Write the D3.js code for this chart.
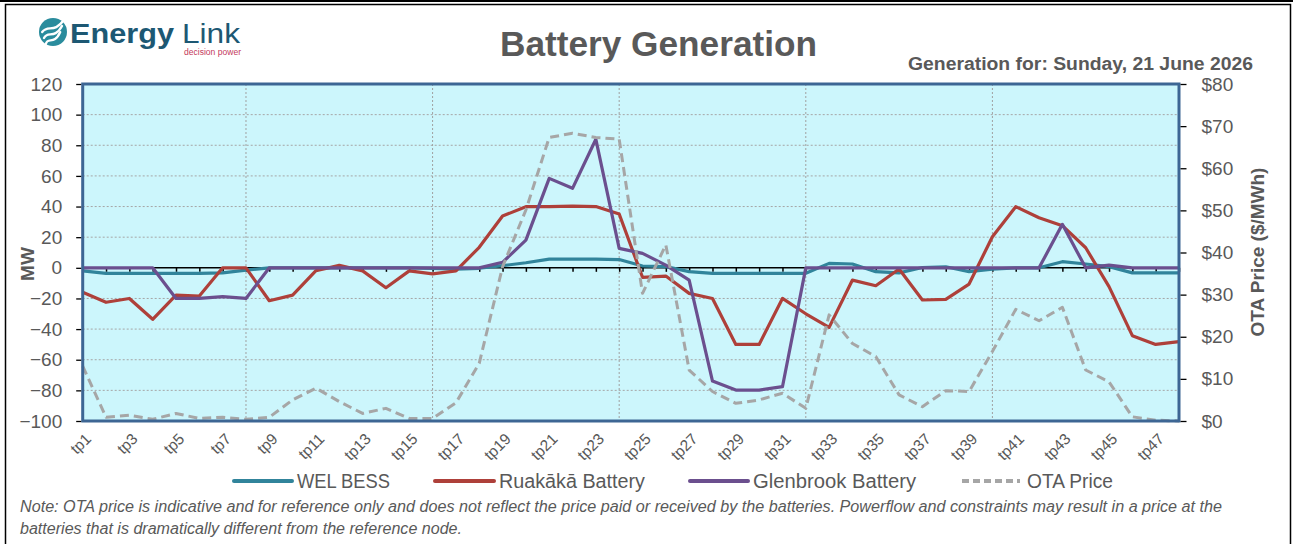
<!DOCTYPE html>
<html>
<head>
<meta charset="utf-8">
<script src="https://cdn.jsdelivr.net/npm/d3@7"></script>
<style>
  html, body { margin: 0; padding: 0; background: #ffffff; }
  svg { display: block; }
</style>
</head>
<body>
<svg id="chart" width="1293" height="544"></svg>
<script>
// ---------------- DATA ----------------
const categories = d3.range(1, 49).map(i => "tp" + i);
const xTickLabels = categories.filter((d, i) => i % 2 === 0);
const leftTicks = [-100, -80, -60, -40, -20, 0, 20, 40, 60, 80, 100, 120];
const rightTicks = [0, 10, 20, 30, 40, 50, 60, 70, 80];
const vGridCats = ["tp8", "tp16", "tp24", "tp32", "tp40"];

const welBess = [-2, -3.6, -3.6, -3.6, -3.6, -3.6, -3.3, -1.5, 0, 0, 0, 0, 0, 0, 0, -0.3,
  -0.8, -0.3, 1.4, 3.3, 5.7, 5.7, 5.7, 5.4, 1.2, 0.8, -2.5, -3.6, -3.6, -3.6, -3.6, -3.6,
  2.9, 2.5, -2.5, -3.3, 0.2, 0.7, -2.5, -0.9, 0, 0, 4, 2.5, 0.8, -3.3, -3.3, -3.3];

const ruakaka = [-16, -22.5, -20, -33.6, -17.8, -18.4, 0, 0, -21.5, -17.8, -1.9, 1.6, -2, -13, -2, -4,
  -2, 13.4, 33.8, 39.9, 40, 40.3, 40, 35.1, -6.2, -5.4, -16.7, -20, -50, -50, -20, -30,
  -38.9, -8, -11.7, -0.8, -21, -20.6, -10.6, 20.3, 39.9, 32.7, 27.5, 13.1, -12.3, -44.3, -50, -48.2];

const glenbrook = [0, 0, 0, 0, -20, -20, -18.8, -20, 0, 0, 0, 0, 0, 0, 0, 0,
  0, 0, 3.6, 18.1, 58.4, 51.9, 83.9, 12.7, 9.4, 1.8, -8, -73.9, -79.8, -79.8, -77.6, 0,
  0, 0, 0, 0, 0, 0, 0, 0, 0, 0, 28.4, 0, 1.8, 0, 0, 0];

const otaPrice = [13, 0.9, 1.4, 0.4, 1.8, 0.6, 0.9, 0.4, 0.9, 5, 7.8, 4.6, 1.8, 3, 0.6, 0.6,
  4.3, 13.7, 36.6, 50.1, 67.3, 68.3, 67.3, 66.9, 30.3, 41.8, 12.1, 7, 4.2, 5, 6.6, 3,
  25.2, 18.4, 15.3, 6.2, 3.4, 7.2, 7, 16.5, 26.5, 23.8, 27, 12.1, 9.3, 1, 0.2, 0];

const seriesNames = ["WEL BESS", "Ruakākā Battery", "Glenbrook Battery", "OTA Price"];
const seriesColors = ["#31849B", "#AE403A", "#6B4F8E", "#A6A6A6"];

const titleText = "Battery Generation";
const subtitleText = "Generation for: Sunday, 21 June 2026";
const noteLines = [
  "Note: OTA price is indicative and for reference only and does not reflect the price paid or received by the batteries. Powerflow and  constraints may result in a price at the",
  "batteries that is dramatically different from the reference node."
];

// ---------------- LAYOUT ----------------
const svg = d3.select("#chart");
const L = 82.7, R = 1179, T = 84, B = 421;
const textGray = "#595959";

const x = d3.scalePoint().domain(categories).range([L, R]).padding(0);
const yL = d3.scaleLinear().domain([-100, 120]).range([B, T]);
const yR = d3.scaleLinear().domain([0, 80]).range([B, T]);

// outer frame
svg.append("line").attr("x1", 0).attr("x2", 1293).attr("y1", 1).attr("y2", 1)
  .attr("stroke", "#000").attr("stroke-width", 2);
svg.append("rect").attr("x", 5.5).attr("y", 4.5).attr("width", 1285).attr("height", 560)
  .attr("fill", "none").attr("stroke", "#000").attr("stroke-width", 1.5);

// logo
const logo = svg.append("g");
logo.append("circle").attr("cx", 53).attr("cy", 32).attr("r", 14).attr("fill", "#2A8C9D");
[-6, 0, 6].forEach(o => {
  logo.append("path")
    .attr("d", `M${44 + o * 0.3},${38 + o} C${48},${30 + o} ${54},${40 + o} ${62 - o * 0.3},${26 + o}`)
    .attr("fill", "none").attr("stroke", "#fff").attr("stroke-width", 2.4).attr("stroke-linecap", "round");
});
logo.append("text").attr("x", 70).attr("y", 43).text("Energy")
  .attr("font-family", "Liberation Sans, Arial, sans-serif").attr("font-weight", "bold")
  .attr("font-size", 27).attr("fill", "#1D5873").attr("textLength", 104).attr("lengthAdjust", "spacingAndGlyphs");
logo.append("text").attr("x", 182).attr("y", 43).text("Link")
  .attr("font-family", "Liberation Sans, Arial, sans-serif")
  .attr("font-size", 27).attr("fill", "#1D5873").attr("textLength", 58).attr("lengthAdjust", "spacingAndGlyphs");
logo.append("text").attr("x", 184).attr("y", 55).text("decision power")
  .attr("font-family", "Liberation Sans, Arial, sans-serif")
  .attr("font-size", 8.5).attr("fill", "#C43A5C").attr("textLength", 57).attr("lengthAdjust", "spacingAndGlyphs");

// title & subtitle
svg.append("text").attr("x", 658.5).attr("y", 56).attr("text-anchor", "middle").text(titleText)
  .attr("font-family", "Liberation Sans, Arial, sans-serif").attr("font-weight", "bold")
  .attr("font-size", 35).attr("fill", textGray).attr("textLength", 317).attr("lengthAdjust", "spacingAndGlyphs");
svg.append("text").attr("x", 1253).attr("y", 70).attr("text-anchor", "end").text(subtitleText)
  .attr("font-family", "Liberation Sans, Arial, sans-serif").attr("font-weight", "bold")
  .attr("font-size", 18).attr("fill", textGray).attr("textLength", 345).attr("lengthAdjust", "spacingAndGlyphs");

// plot background
svg.append("rect").attr("x", L).attr("y", T).attr("width", R - L).attr("height", B - T)
  .attr("fill", "#CCF6FC");

// horizontal dotted gridlines
svg.append("g").selectAll("line").data(leftTicks.filter(v => v !== 0 && v !== 120 && v !== -100))
  .join("line")
  .attr("x1", L).attr("x2", R).attr("y1", d => yL(d)).attr("y2", d => yL(d))
  .attr("stroke", "#A6A6A6").attr("stroke-width", 1).attr("stroke-dasharray", "2,2");

// vertical dotted gridlines
svg.append("g").selectAll("line").data(vGridCats).join("line")
  .attr("x1", d => x(d)).attr("x2", d => x(d)).attr("y1", T).attr("y2", B)
  .attr("stroke", "#A0A0A0").attr("stroke-width", 1).attr("stroke-dasharray", "2,2");

// zero category axis
const zeroAxis = svg.append("g").attr("transform", `translate(0,${yL(0)})`)
  .call(d3.axisBottom(x).tickSize(4).tickFormat(""));
zeroAxis.select(".domain").attr("stroke", "#000").attr("stroke-width", 1.6).attr("d", `M${L},0H${R}`);
zeroAxis.selectAll(".tick line").attr("stroke", "#000").attr("stroke-width", 1.5);

// series
const lineL = d3.line().x((d, i) => x(categories[i])).y(d => yL(d));
const lineR = d3.line().x((d, i) => x(categories[i])).y(d => yR(d));
const plotG = svg.append("g");
[welBess, ruakaka, glenbrook].forEach((s, k) => {
  plotG.append("path").datum(s).attr("d", lineL).attr("fill", "none")
    .attr("stroke", seriesColors[k]).attr("stroke-width", 3.2).attr("stroke-linejoin", "round");
});
plotG.append("path").datum(otaPrice).attr("d", lineR).attr("fill", "none")
  .attr("stroke", seriesColors[3]).attr("stroke-width", 3).attr("stroke-dasharray", "9,5")
  .attr("stroke-linejoin", "round");

// frame
svg.append("rect").attr("x", L).attr("y", T).attr("width", R - L).attr("height", B - T)
  .attr("fill", "none").attr("stroke", "#3D6694").attr("stroke-width", 3);

// left axis
const axL = svg.append("g").attr("transform", `translate(${L - 1.5},0)`)
  .call(d3.axisLeft(yL).tickValues(leftTicks).tickSize(5).tickPadding(14));
axL.select(".domain").remove();
axL.selectAll(".tick line").attr("stroke", "#000").attr("stroke-width", 1.3);
axL.selectAll(".tick text").attr("font-family", "Liberation Sans, Arial, sans-serif")
  .attr("font-size", 19).attr("fill", textGray);

// right axis
const axR = svg.append("g").attr("transform", `translate(${R + 1.5},0)`)
  .call(d3.axisRight(yR).tickValues(rightTicks).tickSize(6).tickPadding(15).tickFormat(d => "$" + d));
axR.select(".domain").remove();
axR.selectAll(".tick line").attr("stroke", "#000").attr("stroke-width", 1.3);
axR.selectAll(".tick text").attr("font-family", "Liberation Sans, Arial, sans-serif")
  .attr("font-size", 19).attr("fill", textGray);

// x labels
const axX = svg.append("g").attr("transform", `translate(0,${B})`)
  .call(d3.axisBottom(x).tickValues(xTickLabels).tickSize(0));
axX.select(".domain").remove();
axX.selectAll(".tick text")
  .attr("font-family", "Liberation Sans, Arial, sans-serif").attr("font-size", 15.5).attr("fill", textGray)
  .attr("text-anchor", "end").attr("x", 0).attr("y", 0).attr("dy", "0.35em")
  .attr("transform", "translate(5,15) rotate(-45)");

// axis titles
svg.append("text").attr("transform", "translate(34,264) rotate(-90)").attr("text-anchor", "middle")
  .text("MW").attr("font-family", "Liberation Sans, Arial, sans-serif").attr("font-weight", "bold")
  .attr("font-size", 19).attr("fill", textGray);
svg.append("text").attr("transform", "translate(1264,252) rotate(-90)").attr("text-anchor", "middle")
  .text("OTA Price ($/MWh)").attr("font-family", "Liberation Sans, Arial, sans-serif").attr("font-weight", "bold")
  .attr("font-size", 19).attr("fill", textGray);

// legend
const legendItems = [
  { x1: 234, x2: 292, tx: 297, w: 93, dash: null },
  { x1: 435, x2: 494, tx: 499, w: 146, dash: null },
  { x1: 690, x2: 748, tx: 753, w: 163, dash: null },
  { x1: 962, x2: 1020, tx: 1027, w: 86, dash: "7,4" }
];
const legend = svg.append("g");
legendItems.forEach((it, k) => {
  legend.append("line").attr("x1", it.x1).attr("x2", it.x2).attr("y1", 481).attr("y2", 481)
    .attr("stroke", seriesColors[k]).attr("stroke-width", 4)
    .attr("stroke-linecap", it.dash ? "butt" : "round")
    .attr("stroke-dasharray", it.dash);
  legend.append("text").attr("x", it.tx).attr("y", 488).text(seriesNames[k])
    .attr("font-family", "Liberation Sans, Arial, sans-serif").attr("font-size", 19.5)
    .attr("fill", textGray).attr("textLength", it.w).attr("lengthAdjust", "spacingAndGlyphs");
});

// note
svg.append("text").attr("x", 20).attr("y", 512).text(noteLines[0])
  .attr("font-family", "Liberation Sans, Arial, sans-serif").attr("font-style", "italic")
  .attr("font-size", 16).attr("fill", textGray).attr("textLength", 1202).attr("lengthAdjust", "spacingAndGlyphs");
svg.append("text").attr("x", 20).attr("y", 534).text(noteLines[1])
  .attr("font-family", "Liberation Sans, Arial, sans-serif").attr("font-style", "italic")
  .attr("font-size", 16).attr("fill", textGray).attr("textLength", 442).attr("lengthAdjust", "spacingAndGlyphs");
</script>
</body>
</html>
